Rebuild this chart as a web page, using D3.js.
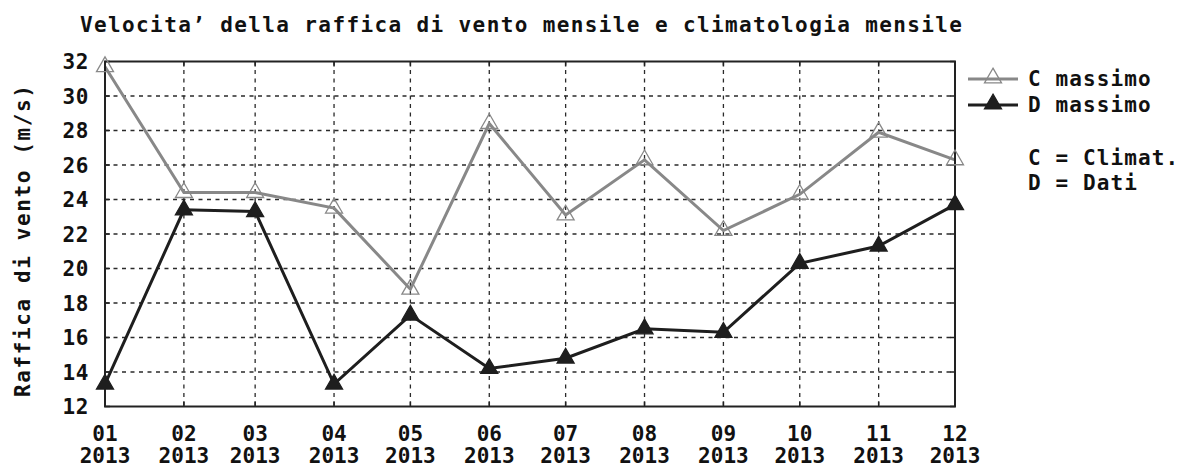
<!DOCTYPE html>
<html>
<head>
<meta charset="utf-8">
<script src="https://cdn.jsdelivr.net/npm/d3@7"></script>
<style>
  body { margin: 0; background: #fff; }
  text { font-family: "DejaVu Sans Mono", monospace; font-weight: bold; fill: #111; }
</style>
</head>
<body>
<svg id="chart"></svg>
<script>
// data
const months = ['01', '02', '03', '04', '05', '06', '07', '08', '09', '10', '11', '12'];
const year = '2013';
const climMax = [31.7, 24.4, 24.4, 23.5, 18.8, 28.4, 23.1, 26.3, 22.2, 24.3, 27.9, 26.3];
const dataMax = [13.3, 23.4, 23.3, 13.3, 17.3, 14.2, 14.8, 16.5, 16.3, 20.3, 21.3, 23.7];
const yTicks = [12, 14, 16, 18, 20, 22, 24, 26, 28, 30, 32];
const legendNames = ['C massimo', 'D massimo'];
const legendNotes = ['C = Climat.', 'D = Dati'];

const W = 1182, H = 468;
const svg = d3.select('#chart').attr('width', W).attr('height', H);

const dates = months.map(m => new Date(Date.UTC(+year, +m - 1, 1)));

const x = d3.scaleUtc()
    .domain([dates[0], dates[dates.length - 1]])
    .range([105, 955]);
const y = d3.scaleLinear()
    .domain([12, 32])
    .range([406.5, 61.5]);

// title
svg.append('text')
    .attr('x', 80).attr('y', 32)
    .attr('font-size', 21)
    .attr('textLength', 882)
    .attr('lengthAdjust', 'spacing')
    .text('Velocita\u2019 della raffica di vento mensile e climatologia mensile');

// grid
const grid = svg.append('g')
    .attr('stroke', '#2a2a2a')
    .attr('stroke-width', 1.3)
    .attr('stroke-dasharray', '4,4.5');
grid.selectAll('.hg')
    .data(yTicks.slice(1, -1))
    .join('line')
    .attr('x1', x.range()[0]).attr('x2', x.range()[1])
    .attr('y1', d => y(d)).attr('y2', d => y(d));
grid.selectAll('.vg')
    .data(dates.slice(1, -1))
    .join('line')
    .attr('y1', y.range()[1]).attr('y2', y.range()[0])
    .attr('x1', d => x(d)).attr('x2', d => x(d));

// ticks inside the frame
const ticks = svg.append('g').attr('stroke', '#222').attr('stroke-width', 1.5);
yTicks.forEach(t => {
    ticks.append('line').attr('x1', x.range()[0]).attr('x2', x.range()[0] + 5).attr('y1', y(t)).attr('y2', y(t));
    ticks.append('line').attr('x1', x.range()[1]).attr('x2', x.range()[1] - 5).attr('y1', y(t)).attr('y2', y(t));
});
dates.forEach(d => {
    ticks.append('line').attr('x1', x(d)).attr('x2', x(d)).attr('y1', y.range()[0]).attr('y2', y.range()[0] - 5);
    ticks.append('line').attr('x1', x(d)).attr('x2', x(d)).attr('y1', y.range()[1]).attr('y2', y.range()[1] + 5);
});

// y tick labels
svg.append('g').selectAll('text')
    .data(yTicks)
    .join('text')
    .attr('x', 89)
    .attr('y', d => y(d) + 7.5)
    .attr('text-anchor', 'end')
    .attr('font-size', 21)
    .attr('letter-spacing', 0.6)
    .text(d => d);

// x tick labels
const xl = svg.append('g').selectAll('text')
    .data(dates)
    .join('text')
    .attr('text-anchor', 'middle')
    .attr('font-size', 21);
xl.append('tspan').attr('x', d => x(d)).attr('y', 441).text((d, i) => months[i]);
xl.append('tspan').attr('x', d => x(d)).attr('y', 463).text(year);

// y axis label
svg.append('text')
    .attr('transform', 'translate(30,241) rotate(-90)')
    .attr('text-anchor', 'middle')
    .attr('font-size', 21)
    .attr('textLength', 312)
    .attr('lengthAdjust', 'spacing')
    .text('Raffica di vento (m/s)');

// series
const series = [
    { name: legendNames[0], values: climMax, color: '#888', filled: false },
    { name: legendNames[1], values: dataMax, color: '#1e1e1e', filled: true }
];
const line = d3.line().x(d => x(d.date)).y(d => y(d.v));
const tri = d3.symbol().type(d3.symbolTriangle).size(125);

series.forEach(s => {
    const pts = s.values.map((v, i) => ({ date: dates[i], v }));
    svg.append('path')
        .datum(pts)
        .attr('d', line)
        .attr('fill', 'none')
        .attr('stroke', s.color)
        .attr('stroke-width', 3);
    s.pts = pts;
});

// frame
svg.append('rect')
    .attr('x', x.range()[0]).attr('y', y.range()[1])
    .attr('width', x.range()[1] - x.range()[0])
    .attr('height', y.range()[0] - y.range()[1])
    .attr('fill', 'none')
    .attr('stroke', '#222')
    .attr('stroke-width', 2);

// markers
series.forEach(s => {
    svg.append('g').selectAll('path')
        .data(s.pts)
        .join('path')
        .attr('transform', d => `translate(${x(d.date)},${y(d.v)})`)
        .attr('d', tri)
        .attr('fill', s.filled ? s.color : 'none')
        .attr('stroke', s.color)
        .attr('stroke-width', 1.3);
});

// legend
const leg = svg.append('g');
series.forEach((s, i) => {
    const ly = 79 + i * 26;
    leg.append('line')
        .attr('x1', 968).attr('x2', 1018).attr('y1', ly).attr('y2', ly)
        .attr('stroke', s.color).attr('stroke-width', 3);
    leg.append('path')
        .attr('transform', `translate(993,${ly - 1})`)
        .attr('d', tri)
        .attr('fill', s.filled ? s.color : 'none')
        .attr('stroke', s.color)
        .attr('stroke-width', 1.3);
    leg.append('text')
        .attr('x', 1028).attr('y', ly + 7)
        .attr('font-size', 21)
        .attr('letter-spacing', 1.1)
        .text(s.name);
});
legendNotes.forEach((t, i) => {
    leg.append('text')
        .attr('x', 1028).attr('y', 165 + i * 25)
        .attr('font-size', 21)
        .attr('letter-spacing', 1.1)
        .text(t);
});
</script>
</body>
</html>
